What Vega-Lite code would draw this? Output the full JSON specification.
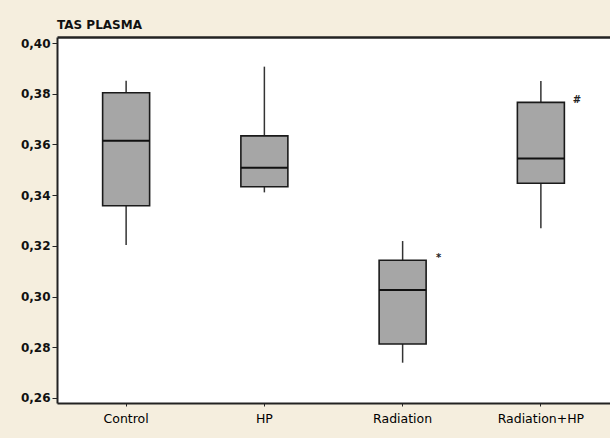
{
  "$schema": "https://vega.github.io/schema/vega-lite/v6.json",
  "autosize": "none",
  "width": 553,
  "height": 366,
  "padding": {"left": 57, "top": 37, "right": 0, "bottom": 35},
  "background": "#F5EEDE",
  "title": {
    "text": "TAS PLASMA",
    "anchor": "start",
    "frame": "group",
    "font": "DejaVu Sans",
    "fontSize": 12,
    "fontWeight": "bold",
    "color": "#111111",
    "offset": 5
  },
  "config": {
    "view": {"fill": "white", "stroke": null},
    "axis": {"grid": false}
  },
  "data": {
    "values": [
      {"group": "Control", "min": 0.3203, "q1": 0.3358, "median": 0.3615, "q3": 0.3804, "max": 0.3851, "sig": ""},
      {"group": "HP", "min": 0.3411, "q1": 0.3433, "median": 0.3508, "q3": 0.3634, "max": 0.3907, "sig": ""},
      {"group": "Radiation", "min": 0.2739, "q1": 0.2813, "median": 0.3026, "q3": 0.3143, "max": 0.3219, "sig": "*"},
      {"group": "Radiation+HP", "min": 0.3269, "q1": 0.3447, "median": 0.3545, "q3": 0.3766, "max": 0.385, "sig": "#"}
    ]
  },
  "resolve": {"axis": {"x": "independent"}},
  "layer": [
    {
      "mark": {"type": "rule", "color": "#333333", "strokeWidth": 1.5},
      "encoding": {
        "x": {
          "field": "group",
          "type": "nominal",
          "sort": null,
          "scale": {"paddingInner": 0, "paddingOuter": 0},
          "axis": {
            "orient": "bottom",
            "title": null,
            "labelAngle": 0,
            "labelFont": "DejaVu Sans",
            "labelFontSize": 12.5,
            "labelColor": "#000000",
            "labelPadding": 6,
            "tickSize": 3,
            "tickColor": "#222222",
            "domainColor": "#222222",
            "domainWidth": 2
          }
        },
        "y": {
          "field": "min",
          "type": "quantitative",
          "scale": {"domain": [0.258, 0.4024], "nice": false, "zero": false},
          "axis": {
            "title": null,
            "values": [0.26, 0.28, 0.30, 0.32, 0.34, 0.36, 0.38, 0.40],
            "labelExpr": "replace(format(datum.value, '.2f'), '.', ',')",
            "labelFont": "DejaVu Sans",
            "labelFontSize": 12,
            "labelFontWeight": "bold",
            "labelColor": "#111111",
            "labelPadding": 2,
            "tickSize": 5,
            "tickColor": "#222222",
            "domainColor": "#222222",
            "domainWidth": 2
          }
        },
        "y2": {"field": "max"}
      }
    },
    {
      "mark": {"type": "bar", "size": 47, "fill": "#A6A6A6", "stroke": "#1a1a1a", "strokeWidth": 1.6},
      "encoding": {
        "x": {"field": "group", "type": "nominal", "sort": null, "axis": null},
        "y": {"field": "q1", "type": "quantitative"},
        "y2": {"field": "q3"}
      }
    },
    {
      "mark": {"type": "tick", "size": 47, "thickness": 2, "color": "#111111", "opacity": 1},
      "encoding": {
        "x": {
          "field": "group",
          "type": "nominal",
          "sort": null,
          "axis": {
            "orient": "top",
            "title": null,
            "labels": false,
            "ticks": false,
            "domainColor": "#222222",
            "domainWidth": 2.5
          }
        },
        "y": {"field": "median", "type": "quantitative"}
      }
    },
    {
      "mark": {"type": "text", "dx": 36, "dy": -2, "fontSize": 10, "fontWeight": "bold", "font": "DejaVu Sans", "color": "#222222"},
      "encoding": {
        "x": {"field": "group", "type": "nominal", "sort": null, "axis": null},
        "y": {"field": "q3", "type": "quantitative"},
        "text": {"field": "sig"}
      }
    }
  ]
}
